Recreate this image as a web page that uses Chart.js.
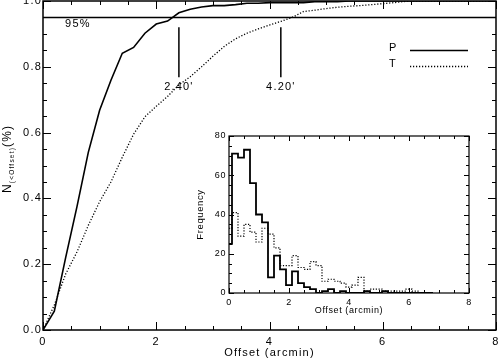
<!DOCTYPE html>
<html>
<head>
<meta charset="utf-8">
<script src="https://cdn.jsdelivr.net/npm/chart.js@4.4.1/dist/chart.umd.min.js"></script>
<style>
  html, body { margin: 0; padding: 0; background: #fff; }
  #wrap { position: relative; width: 499px; height: 358px; }
  #wrap canvas { position: absolute; left: 0; top: 0; }
</style>
</head>
<body>
<div id="wrap">
  <canvas id="mainChart" width="499" height="358"></canvas>
  <canvas id="insetChart" width="499" height="358"></canvas>
</div>
<script>
// cumulative fraction N(<Offset)
const cumOffset = [0, 0.2, 0.4, 0.6, 0.8, 1.0, 1.2, 1.4, 1.6, 1.8, 2.0, 2.2, 2.4, 2.6, 2.8, 3.0, 3.2, 3.4,
  3.6, 3.8, 4.0, 4.2, 4.4, 4.6, 4.8, 5.0, 5.2, 5.4, 5.6, 5.8, 6.0, 6.2, 6.4, 6.6, 8.0];
const cumP = [0, 0.057, 0.22, 0.375, 0.54, 0.668, 0.759, 0.841, 0.859, 0.902, 0.93, 0.939, 0.964, 0.975,
  0.982, 0.986, 0.986, 0.989, 0.993, 0.993, 0.995, 0.995, 0.995, 0.995, 0.998, 0.998, 0.998, 1.0, 1.0,
  1.0, 1.0, 1.0, 1.0, 1.0, 1.0];
const cumT = [0, 0.076, 0.17, 0.237, 0.318, 0.39, 0.45, 0.525, 0.595, 0.648, 0.68, 0.71, 0.745, 0.77,
  0.80, 0.832, 0.862, 0.885, 0.902, 0.915, 0.927, 0.938, 0.95, 0.968, 0.972, 0.977, 0.981, 0.984, 0.986,
  0.989, 0.992, 0.995, 0.999, 1.0, 1.0];

// histogram of the inset (bin centres, 0.2 arcmin wide)
const histOffset = [0, 0.2, 0.4, 0.6, 0.8, 1.0, 1.2, 1.4, 1.6, 1.8, 2.0, 2.2, 2.4, 2.6, 2.8, 3.0, 3.2, 3.4,
  3.6, 3.8, 4.0, 4.2, 4.4, 4.6, 4.8, 5.0, 5.2, 5.4, 5.6, 5.8, 6.0, 6.2, 6.4, 6.6, 6.8];
const histP = [25, 71, 69, 73, 56, 40, 36, 8, 19, 12, 4, 11, 5, 3, 2, 0, 1, 2, 0, 1, 0, 0, 0, 1, 0, 0, 1,
  0, 0, 0, 0, 0, 0, 0, 0];
const histT = [33, 41, 29, 35, 31, 26, 33, 30, 23, 14, 14, 19, 13, 12, 16, 14, 6, 7, 6, 5, 3, 4, 8, 1, 2,
  2, 1, 1, 1, 1, 2, 1, 0, 0, 0];

// 95% level and the two marked offsets
const level95 = 0.95;
const markOffsets = [2.4, 4.2];
const markLabels = ["2.40'", "4.20'"];

const FONT = '"Liberation Sans", Arial, Helvetica, sans-serif';

function pts(xs, ys) {
  return xs.map((x, i) => ({ x: x, y: ys[i] }));
}

// inward tick marks on all four sides + frame (IDL style)
const frameTicks = {
  id: 'frameTicks',
  afterDatasetsDraw(chart, args, o) {
    const { ctx, chartArea: a, scales } = chart;
    const x = scales.x, y = scales.y;
    ctx.save();
    ctx.strokeStyle = '#000';
    ctx.lineWidth = 1;
    ctx.setLineDash([]);
    ctx.beginPath();
    for (let i = 0; x.min + i * o.xMinor <= x.max + 1e-9; i++) {
      const v = x.min + i * o.xMinor;
      const px = Math.round(x.getPixelForValue(v)) + 0.5;
      const r = v / o.xMajor;
      const len = Math.abs(r - Math.round(r)) < 1e-6 ? o.major : o.minor;
      ctx.moveTo(px, a.bottom); ctx.lineTo(px, a.bottom - len);
      ctx.moveTo(px, a.top); ctx.lineTo(px, a.top + len);
    }
    for (let i = 0; y.min + i * o.yMinor <= y.max + 1e-9; i++) {
      const v = y.min + i * o.yMinor;
      const py = Math.round(y.getPixelForValue(v)) + 0.5;
      const r = v / o.yMajor;
      const len = Math.abs(r - Math.round(r)) < 1e-6 ? o.major : o.minor;
      ctx.moveTo(a.left, py); ctx.lineTo(a.left + len, py);
      ctx.moveTo(a.right, py); ctx.lineTo(a.right - len, py);
    }
    ctx.stroke();
    ctx.lineWidth = o.frame;
    ctx.strokeRect(a.left, a.top, a.right - a.left, a.bottom - a.top);
    ctx.restore();
  }
};

const spacing = {
  id: 'spacing',
  beforeDraw(chart, args, o) {
    chart.ctx.letterSpacing = o.px + 'px';
    if (o.fill) {
      const a = chart.chartArea;
      chart.ctx.save();
      chart.ctx.fillStyle = '#fff';
      chart.ctx.fillRect(a.left, a.top, a.right - a.left, a.bottom - a.top);
      chart.ctx.restore();
    }
  }
};

// texts of the big panel: 95%, marker values, legend, y title
const mainTexts = {
  id: 'mainTexts',
  afterDraw(chart) {
    const { ctx, scales: { x, y } } = chart;
    ctx.save();
    ctx.fillStyle = '#000';
    ctx.strokeStyle = '#000';
    ctx.font = '11px ' + FONT;
    ctx.textBaseline = 'middle';
    ctx.textAlign = 'left';
    ctx.fillText('95%', x.getPixelForValue(0.39), y.getPixelForValue(0.93));
    ctx.textAlign = 'center';
    markOffsets.forEach((m, i) => {
      ctx.fillText(markLabels[i], x.getPixelForValue(m), y.getPixelForValue(0.738));
    });

    // legend
    ctx.textAlign = 'left';
    ctx.fillText('P', 389, 48);
    ctx.fillText('T', 389, 64);
    ctx.lineWidth = 1.6;
    ctx.beginPath(); ctx.moveTo(410, 50.5); ctx.lineTo(468, 50.5); ctx.stroke();
    ctx.lineWidth = 1.3;
    ctx.setLineDash([1.2, 1.8]);
    ctx.beginPath(); ctx.moveTo(410, 66.5); ctx.lineTo(468, 66.5); ctx.stroke();
    ctx.setLineDash([]);

    // y title N_(<Offset)(%)
    ctx.translate(11, 193);
    ctx.rotate(-Math.PI / 2);
    ctx.textBaseline = 'alphabetic';
    ctx.font = '12px ' + FONT;
    ctx.fillText('N', 0, 0);
    let w = ctx.measureText('N').width;
    ctx.font = '6.5px ' + FONT;
    ctx.fillText('(<Offset)', w, 3);
    w += ctx.measureText('(<Offset)').width;
    ctx.font = '12px ' + FONT;
    ctx.fillText('(%)', w, 0);
    ctx.restore();
  }
};

new Chart(document.getElementById('mainChart'), {
  type: 'line',
  data: {
    datasets: [
      { label: 'P', data: pts(cumOffset, cumP), borderColor: '#000', borderWidth: 1.6,
        pointRadius: 0, tension: 0 },
      { label: 'T', data: pts(cumOffset, cumT), borderColor: '#000', borderWidth: 1.3,
        borderDash: [1.2, 1.8], pointRadius: 0, tension: 0 },
      { label: '95%', data: [{ x: 0, y: level95 }, { x: 8, y: level95 }], borderColor: '#000',
        borderWidth: 1.5, pointRadius: 0 },
      { label: 'm1', data: [{ x: markOffsets[0], y: 0.92 }, { x: markOffsets[0], y: 0.768 }],
        borderColor: '#000', borderWidth: 1.5, pointRadius: 0 },
      { label: 'm2', data: [{ x: markOffsets[1], y: 0.92 }, { x: markOffsets[1], y: 0.768 }],
        borderColor: '#000', borderWidth: 1.5, pointRadius: 0 }
    ]
  },
  options: {
    responsive: false,
    animation: false,
    devicePixelRatio: 1,
    layout: { padding: { top: 1, right: 3, left: 0, bottom: 0 } },
    plugins: {
      legend: { display: false },
      tooltip: { enabled: false },
      frameTicks: { xMajor: 2, xMinor: 0.5, yMajor: 0.2, yMinor: 0.05, major: 8, minor: 4, frame: 1.5 },
      spacing: { px: 1.2 }
    },
    scales: {
      x: {
        type: 'linear', min: 0, max: 8,
        grid: { display: false, drawTicks: false },
        border: { display: false },
        ticks: { stepSize: 2, maxRotation: 0, padding: 5, color: '#000', font: { size: 11, family: FONT },
          callback: v => String(v) },
        title: { display: true, text: 'Offset (arcmin)', color: '#000',
          font: { size: 11, family: FONT, lineHeight: 1 }, padding: { top: 0, bottom: 0 } },
        afterFit(s) { s.height = 28; s.paddingLeft = 0; s.paddingRight = 0; }
      },
      y: {
        min: 0, max: 1,
        grid: { display: false, drawTicks: false },
        border: { display: false },
        ticks: { stepSize: 0.2, padding: 1, color: '#000', font: { size: 11, family: FONT },
          callback: v => v.toFixed(1) },
        afterFit(s) { s.width = 43; s.paddingTop = 0; s.paddingBottom = 0; }
      }
    }
  },
  plugins: [spacing, frameTicks, mainTexts]
});

new Chart(document.getElementById('insetChart'), {
  type: 'line',
  data: {
    datasets: [
      { label: 'P', data: pts(histOffset, histP), stepped: 'middle', borderColor: '#000',
        borderWidth: 1.8, pointRadius: 0 },
      { label: 'T', data: pts(histOffset, histT), stepped: 'middle', borderColor: '#000',
        borderWidth: 1.2, borderDash: [1.2, 1.6], pointRadius: 0 }
    ]
  },
  options: {
    responsive: false,
    animation: false,
    devicePixelRatio: 1,
    layout: { padding: { top: 136, right: 30, left: 196, bottom: 43 } },
    plugins: {
      legend: { display: false },
      tooltip: { enabled: false },
      frameTicks: { xMajor: 2, xMinor: 0.5, yMajor: 20, yMinor: 5, major: 5, minor: 3, frame: 1.2 },
      spacing: { px: 0.6, fill: true }
    },
    scales: {
      x: {
        type: 'linear', min: 0, max: 8,
        grid: { display: false, drawTicks: false },
        border: { display: false },
        ticks: { stepSize: 2, maxRotation: 0, padding: 4, color: '#000', font: { size: 9, family: FONT },
          callback: v => String(v) },
        title: { display: true, text: 'Offset (arcmin)', color: '#000',
          font: { size: 9, family: FONT, lineHeight: 1 }, padding: { top: 0, bottom: 0 } },
        afterFit(s) { s.height = 22; s.paddingLeft = 0; s.paddingRight = 0; }
      },
      y: {
        min: 0, max: 80,
        grid: { display: false, drawTicks: false },
        border: { display: false },
        ticks: { stepSize: 20, padding: 3, color: '#000', font: { size: 9, family: FONT } },
        title: { display: true, text: 'Frequency', color: '#000',
          font: { size: 9.5, family: FONT, lineHeight: 1 }, padding: { top: 0, bottom: 0 } },
        afterFit(s) { s.width = 33; s.paddingTop = 0; s.paddingBottom = 0; }
      }
    }
  },
  plugins: [spacing, frameTicks]
});
</script>
</body>
</html>
